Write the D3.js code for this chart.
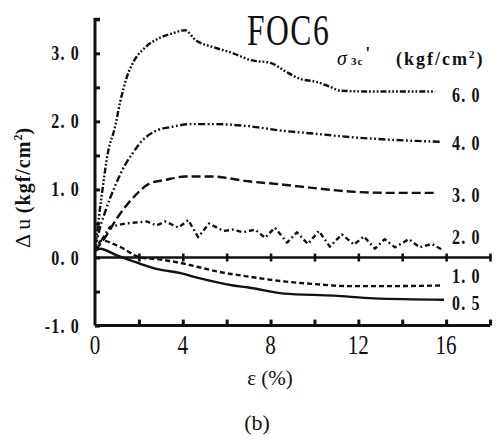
<!DOCTYPE html>
<html><head><meta charset="utf-8">
<script src="https://cdn.jsdelivr.net/npm/d3@7"></script>
<style>body{margin:0;background:#fff}svg{display:block}
text{font-family:"Liberation Serif","Times New Roman",Times,serif}</style>
</head><body>
<script>
// ---- data ----
const xTicks = [0, 4, 8, 12, 16];
const xMinorTicks = [0, 2, 4, 6, 8, 10, 12, 14, 16, 18];
const yTicks = [-1, 0, 1, 2, 3];
const yTickLabels = ["-1. 0", "0. 0", "1. 0", "2. 0", "3. 0"];
const yMinorTicks = [-1, -0.5, 0, 0.5, 1, 1.5, 2, 2.5, 3, 3.5];
const seriesNames = ["6. 0", "4. 0", "3. 0", "2. 0", "1. 0", "0. 5"];

const s60x = [0, 0.3, 0.6, 0.9, 1.15, 1.45, 1.8, 2.3, 2.9, 3.5, 4.1, 4.6, 5.4, 6.3, 7.1, 8.0, 8.6, 9.3, 10.1, 10.7, 11.2, 12.5, 14, 15.5];
const s60y = [0.1, 0.9, 1.56, 1.9, 2.29, 2.65, 2.9, 3.09, 3.22, 3.29, 3.34, 3.19, 3.09, 3.0, 2.9, 2.86, 2.75, 2.63, 2.58, 2.51, 2.45, 2.44, 2.44, 2.44];
const s40x = [0, 0.15, 0.45, 0.9, 1.37, 1.67, 2.1, 2.7, 3.5, 4.4, 5.4, 7.0, 8.6, 10, 11.6, 13.5, 15.8];
const s40y = [0.1, 0.34, 0.66, 1.04, 1.36, 1.51, 1.7, 1.85, 1.92, 1.96, 1.96, 1.93, 1.86, 1.82, 1.77, 1.73, 1.7];
const s30x = [0, 0.45, 1.05, 1.8, 2.5, 3.2, 4.1, 5.3, 7.0, 8.6, 10, 11.6, 13.5, 15.6];
const s30y = [0.1, 0.29, 0.6, 0.9, 1.09, 1.14, 1.19, 1.19, 1.12, 1.07, 1.02, 0.97, 0.95, 0.95];
const s20x = [0, 0.68, 1.37, 2.36, 2.8, 3.2, 3.8, 4.25, 4.7, 5.2, 5.85, 6.3, 6.75, 7.3, 7.75, 8.2, 8.75, 9.2, 9.7, 10.2, 10.7, 11.25, 11.8, 12.25, 12.76, 13.2, 13.67, 14.3, 14.8, 15.35, 15.9];
const s20y = [0.1, 0.45, 0.5, 0.53, 0.47, 0.53, 0.44, 0.55, 0.3, 0.5, 0.39, 0.41, 0.37, 0.41, 0.29, 0.44, 0.22, 0.37, 0.2, 0.39, 0.16, 0.34, 0.19, 0.31, 0.13, 0.27, 0.15, 0.27, 0.15, 0.2, 0.1];
const s10x = [0, 0.3, 1.05, 2.1, 3.0, 3.9, 5.1, 5.5, 7.0, 8.6, 10, 11.6, 13.5, 15.8];
const s10y = [0.1, 0.25, 0.17, 0.0, -0.03, -0.08, -0.17, -0.2, -0.28, -0.35, -0.39, -0.42, -0.42, -0.41];
const s05x = [0, 0.23, 1.0, 1.95, 2.85, 3.9, 4.7, 6.3, 7.0, 8.6, 10.9, 12.7, 15.9];
const s05y = [0.1, 0.13, 0.03, -0.08, -0.17, -0.23, -0.3, -0.41, -0.44, -0.53, -0.56, -0.6, -0.62];

const seriesX = [s60x, s40x, s30x, s20x, s10x, s05x];
const seriesY = [s60y, s40y, s30y, s20y, s10y, s05y];
const dashes = ["6,2,1.8,2,1.8,2,1.8,2", "7,2.5,1.8,2.5,1.8,2.5", "9,4", "5,3,1.8,3", "5,3", null];

// ---- layout ----
const W = 499, H = 441;
const x = d3.scaleLinear().domain([0, 18]).range([95, 490]);
const y = d3.scaleLinear().domain([-1, 3.5]).range([325.6, 19.3]);
const ink = "#111";

const svg = d3.select("body").append("svg").attr("width", W).attr("height", H);

function ctext(str, px, py, opts) {
  const sx = opts.sx || 1;
  return svg.append("text")
    .attr("transform", `translate(${px},${py}) scale(${sx},1)`)
    .attr("text-anchor", opts.anchor || "middle")
    .style("font-size", opts.size + "px")
    .style("font-weight", opts.weight || "normal")
    .style("letter-spacing", (opts.ls || 0) + "px")
    .attr("fill", ink)
    .text(str);
}

// axes
const g = svg.append("g");
g.append("g").attr("transform", `translate(${x(0)},0)`)
  .call(d3.axisRight(y).tickValues(yMinorTicks).tickSize(5).tickFormat(""))
  .call(a => a.select(".domain").attr("d", `M5,${y(3.5)}H0V${y(-1)}`))
  .call(a => a.selectAll("path,line").attr("stroke", ink).attr("stroke-width", 3));
g.append("g").attr("transform", `translate(0,${y(-1)})`)
  .call(d3.axisTop(x).tickValues(xMinorTicks.slice(1)).tickSize(6).tickFormat(""))
  .call(a => a.select(".domain").attr("d", `M${x(0)},0H${x(18)}`))
  .call(a => a.selectAll("path,line").attr("stroke", ink).attr("stroke-width", 3));
g.append("g").attr("transform", `translate(0,${y(0)})`)
  .call(d3.axisTop(x).tickValues(xMinorTicks.slice(1)).tickSize(4).tickFormat(""))
  .call(a => a.select(".domain").attr("d", `M${x(0)},0H${x(18)}`))
  .call(a => a.selectAll("line").attr("y2", -4).attr("y1", 4))
  .call(a => a.selectAll("path,line").attr("stroke", ink).attr("stroke-width", 2.6));

// y tick labels
yTicks.forEach((v, i) => ctext(yTickLabels[i], 80, y(v) + 7, {size: 20, weight: "bold", anchor: "end", sx: 0.8, ls: 1.5}));
// x tick labels
xTicks.forEach(v => ctext(String(v), x(v), 354, {size: 27, sx: 0.78}));

// curves
const smooth = d3.line().x(d => x(d[0])).y(d => y(d[1])).curve(d3.curveMonotoneX);
const straight = d3.line().x(d => x(d[0])).y(d => y(d[1]));
seriesX.forEach((xs, i) => {
  const pts = xs.map((xv, j) => [xv, seriesY[i][j]]);
  const p = svg.append("path").datum(pts)
    .attr("d", i === 3 ? straight(pts) : smooth(pts))
    .attr("fill", "none").attr("stroke", ink).attr("stroke-width", 2.4)
    .attr("stroke-linejoin", "round");
  if (dashes[i]) p.attr("stroke-dasharray", dashes[i]);
});

// series labels
const labelY = [95, 143, 195, 237, 276, 303];
seriesNames.forEach((s, i) => ctext(s, 452, labelY[i] + 7, {size: 20, weight: "bold", anchor: "start", sx: 0.8, ls: 1.5}));

// title
ctext("FOC6", 247, 45, {size: 44, anchor: "start", sx: 0.72, ls: 2});

// legend title
const lt = svg.append("text").attr("x", 337).attr("y", 65)
  .style("font-weight", "bold").style("font-size", "18px").attr("fill", ink);
lt.append("tspan").style("font-style", "italic").style("font-weight", "normal").style("font-size", "20px").text("σ");
lt.append("tspan").style("font-size", "11px").attr("dx", 4).style("letter-spacing", "1px").text("3c");
lt.append("tspan").attr("dy", -5).attr("dx", 2).text("'");
const lu = svg.append("text").attr("x", 396).attr("y", 65)
  .style("font-weight", "bold").style("font-size", "18px").style("letter-spacing", "2px").attr("fill", ink);
lu.append("tspan").text("(kgf/cm");
lu.append("tspan").style("font-size", "11px").attr("dy", -7).text("2");
lu.append("tspan").attr("dy", 7).text(")");

// y axis label
const yl = svg.append("text").attr("transform", "translate(30,188) rotate(-90)")
  .attr("text-anchor", "middle").style("font-size", "20px")
  .style("font-weight", "bold").attr("fill", ink);
yl.append("tspan").style("font-weight", "normal").style("font-size", "22px").text("Δ u ");
yl.append("tspan").style("letter-spacing", "1px").text("(kgf/cm");
yl.append("tspan").style("font-size", "12px").attr("dy", -8).text("2");
yl.append("tspan").attr("dy", 8).text(")");

// x axis label
const xl = svg.append("text").attr("x", 270).attr("y", 385).attr("text-anchor", "middle")
  .style("font-size", "21px").attr("fill", ink);
xl.append("tspan").text("ε");
xl.append("tspan").text(" (%)");

// caption
ctext("(b)", 257, 430, {size: 22});
</script>
</body></html>
